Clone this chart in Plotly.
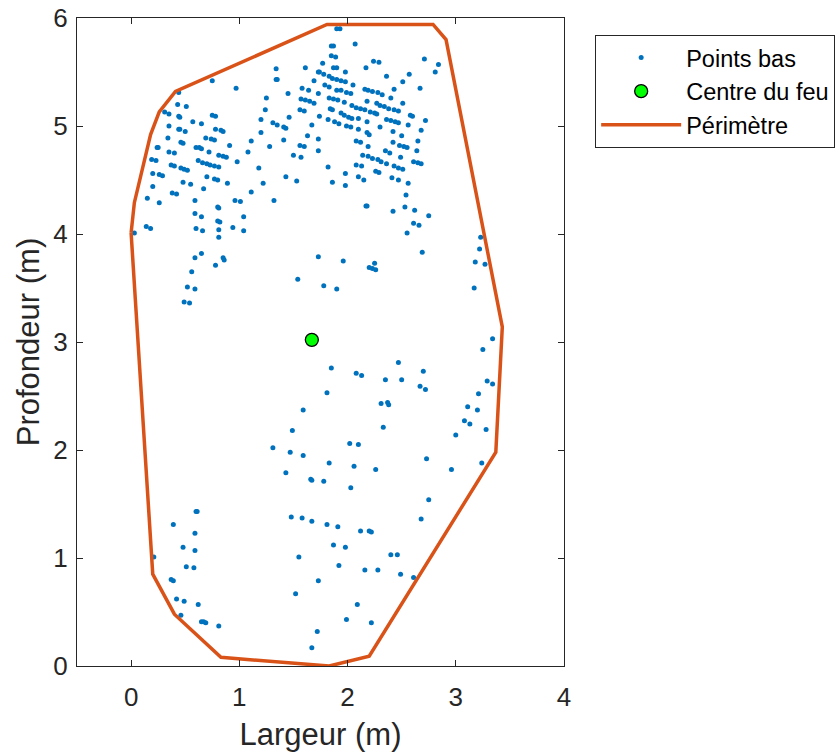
import plotly.graph_objects as go

# ---- Points bas, grouped by region ----
ul_x = [0.75,0.97,1.34,1.34,1.35,1.61,1.73,0.44,0.43,0.51,
        0.31,0.35,0.44,0.45,0.35,0.57,0.65,0.75,0.78,0.44,
        0.45,0.50,0.78,0.83,0.85,0.34,0.24,0.25,0.46,0.48,
        0.69,0.74,0.77,0.91,0.35,0.40,0.60,0.63,0.65,0.72,
        0.81,0.85,0.88,0.19,0.23,0.62,0.66,0.70,0.73,0.77,
        0.81,0.98,0.37,0.40,0.46,0.49,0.52,0.20,0.26,0.29,
        0.70,0.77,0.80,0.48,0.55,0.89,0.20,0.67,0.38,0.42,
        0.15,0.26,0.59,0.96,1.01,0.80,0.81,0.59,0.65,1.04,
        0.80,0.82,0.14,0.18,0.03,0.60,0.66,0.81,0.94,1.04,
        0.81,0.65,0.59,0.85,0.86,1.73,1.11,1.08,1.18,1.11,
        1.22,1.25,1.24,1.20,1.20,1.28,1.31,1.35,1.41,1.43,
        1.41,1.46,1.45,1.32,1.43,1.53,1.50,1.57,1.56,1.60,
        1.58,1.64,1.57,1.61,1.65,1.69,1.56,1.60,1.69,1.73,
        1.67,1.63,1.73,1.73,1.74]
ul_y = [5.42,5.35,5.53,5.43,5.43,5.54,5.50,5.31,5.20,5.18,
        5.13,5.11,5.09,5.08,5.00,5.04,5.02,5.10,5.09,4.97,
        4.97,4.95,4.97,4.96,4.95,4.89,4.80,4.80,4.85,4.84,
        4.89,4.88,4.87,4.82,4.76,4.75,4.80,4.80,4.79,4.76,
        4.73,4.72,4.71,4.69,4.68,4.68,4.66,4.65,4.64,4.63,
        4.62,4.67,4.64,4.63,4.61,4.60,4.59,4.56,4.55,4.54,
        4.53,4.51,4.50,4.48,4.46,4.47,4.44,4.42,4.38,4.37,
        4.33,4.29,4.31,4.31,4.30,4.25,4.24,4.19,4.16,4.16,
        4.12,4.11,4.07,4.05,4.01,4.05,4.03,4.04,4.06,4.03,
        3.97,3.82,3.78,3.78,3.76,3.79,4.86,4.76,4.61,4.39,
        4.47,5.26,5.15,5.06,4.94,4.81,5.03,5.01,4.99,4.98,
        4.87,5.08,5.30,4.31,4.53,4.49,4.73,4.71,4.82,4.81,
        5.35,5.33,5.25,5.24,5.23,5.21,5.15,5.14,5.42,5.30,
        5.01,4.91,4.88,4.77,5.09]

ur_x = [1.90,1.93,1.85,1.87,2.07,1.85,1.89,1.77,1.87,1.90,
        2.24,2.29,2.17,1.98,1.74,1.78,1.83,1.86,1.90,1.94,
        1.98,2.05,2.36,2.57,2.51,2.71,2.84,2.81,1.79,1.83,
        1.90,1.94,1.99,2.03,2.16,2.19,2.23,2.28,2.32,2.43,
        2.67,1.83,1.87,1.91,1.97,2.04,2.08,2.12,2.16,2.18,
        2.40,2.51,2.27,2.30,2.34,2.38,1.84,1.86,1.94,1.97,
        2.01,2.04,2.10,2.21,2.25,2.27,2.43,2.47,2.58,2.60,
        2.72,1.82,1.88,1.92,1.99,2.03,2.18,2.36,2.40,2.44,
        2.47,2.30,2.56,2.10,2.18,2.20,2.42,2.50,2.68,2.08,
        2.12,2.19,2.42,2.48,2.52,2.55,2.65,2.35,2.39,2.14,
        2.19,2.23,2.28,2.31,2.36,2.49,2.64,2.61,2.65,2.68,
        2.08,2.13,2.43,2.47,2.51,2.26,2.29,1.82,1.98,1.86,
        1.98,2.10,2.15,2.41,2.47,2.56,2.54,2.17,2.18,2.53,
        2.62,
        3.23,3.22,2.61,2.66,2.75,2.55,2.69,2.42]
ur_y = [5.90,5.90,5.74,5.74,5.76,5.65,5.64,5.58,5.54,5.54,
        5.60,5.59,5.54,5.50,5.50,5.48,5.46,5.44,5.43,5.42,
        5.41,5.38,5.46,5.48,5.41,5.62,5.57,5.50,5.38,5.36,
        5.33,5.33,5.31,5.30,5.34,5.33,5.32,5.31,5.29,5.34,
        5.35,5.26,5.25,5.24,5.22,5.19,5.17,5.16,5.15,5.23,
        5.26,5.21,5.21,5.19,5.18,5.16,5.16,5.15,5.12,5.10,
        5.08,5.07,5.07,5.13,5.12,5.11,5.15,5.14,5.10,5.09,
        5.05,5.06,5.04,5.02,5.00,4.99,5.04,5.06,5.05,5.04,
        5.03,4.99,5.01,4.97,4.94,4.92,4.95,4.91,4.96,4.86,
        4.85,4.81,4.85,4.82,4.81,4.80,4.86,4.77,4.75,4.73,
        4.72,4.70,4.69,4.67,4.65,4.71,4.77,4.67,4.66,4.65,
        4.64,4.63,4.63,4.61,4.60,4.58,4.57,4.62,4.56,4.48,
        4.45,4.53,4.50,4.52,4.50,4.47,4.36,4.26,4.26,4.25,
        4.22,
        3.97,3.86,4.10,4.08,4.17,4.01,3.83,4.21]

mid_x = [1.96,2.25,2.20,2.23,2.26,1.54,1.78,1.90,3.18,3.27,
         3.17,3.34,3.25,1.85,2.47,2.08,2.13,2.35,2.50,2.70,
         2.67,2.72,1.81,3.29,3.34,3.21,2.31,2.37,2.38,1.59,
         3.11,3.20,3.08,3.13,3.28,2.33,1.49,3.00,1.31,1.47,
         1.59,2.02,2.10,2.73,1.83,2.06,2.26,2.96,3.24,
         0.78,0.56,0.52,0.59,0.49,0.54]
mid_y = [3.75,3.73,3.69,3.68,3.67,3.58,3.52,3.49,3.74,3.72,
         3.50,3.03,2.93,2.76,2.81,2.71,2.69,2.65,2.65,2.73,
         2.59,2.56,2.53,2.64,2.61,2.52,2.43,2.44,2.42,2.37,
         2.40,2.37,2.27,2.24,2.19,2.21,2.18,2.14,2.02,1.98,
         1.95,2.06,2.05,1.92,1.88,1.85,1.82,1.82,1.88,
         3.71,3.65,3.51,3.49,3.37,3.36]

low_x = [1.43,1.66,1.67,0.60,0.61,0.39,1.48,1.58,1.67,0.59,
         0.48,0.59,0.21,1.55,0.51,0.58,0.37,0.39,1.73,1.52,
         0.42,0.49,0.62,0.46,0.65,0.67,0.69,0.81,1.72,1.67,
         1.78,2.03,2.75,2.68,1.81,1.91,2.12,2.20,2.22,1.87,
         1.98,1.92,2.40,2.46,2.16,2.28,2.49,2.61,2.09,1.99,2.22]
low_y = [1.79,1.73,1.72,1.43,1.43,1.31,1.38,1.37,1.34,1.23,
         1.10,1.07,1.01,1.01,0.92,0.91,0.80,0.79,0.79,0.67,
         0.62,0.60,0.57,0.47,0.41,0.41,0.40,0.37,0.32,0.17,
         1.71,1.65,1.54,1.36,1.31,1.29,1.25,1.25,1.24,1.12,
         1.10,0.93,1.03,1.03,0.89,0.89,0.85,0.82,0.57,0.43,0.40]

# ---- Centre du feu ----
centre_x = [1.67]
centre_y = [3.02]

# ---- Périmètre ----
perim_x = [0.00, 0.03, 0.18, 0.26, 0.41, 1.81, 2.79, 2.91, 3.43, 3.37, 2.20, 1.83, 0.83, 0.40, 0.20, 0.00]
perim_y = [4.01, 4.29, 4.92, 5.13, 5.32, 5.94, 5.94, 5.80, 3.14, 1.98, 0.09, 0.00, 0.08, 0.48, 0.85, 4.01]

x_ticks = [0, 1, 2, 3, 4]
y_ticks = [0, 1, 2, 3, 4, 5, 6]

pts_x = ul_x + ur_x + mid_x + low_x
pts_y = ul_y + ur_y + mid_y + low_y

FONT = "Liberation Sans, Arial, sans-serif"
AX = "#262626"

fig = go.Figure()
fig.add_trace(go.Scatter(
    x=pts_x, y=pts_y, mode="markers", name="Points bas",
    marker=dict(color="#0072BD", size=5, line=dict(width=0))))
fig.add_trace(go.Scatter(
    x=centre_x, y=centre_y, mode="markers", name="Centre du feu",
    marker=dict(color="#00FF00", size=13, line=dict(color="black", width=1.3))))
fig.add_trace(go.Scatter(
    x=perim_x, y=perim_y, mode="lines", name="Périmètre",
    line=dict(color="#D95319", width=3.5)))

axis_common = dict(
    showline=True, linecolor=AX, linewidth=1, mirror="allticks",
    ticks="inside", ticklen=6, tickwidth=1, tickcolor=AX,
    showgrid=False, zeroline=False,
    tickfont=dict(family=FONT, size=26, color=AX),
)
fig.update_xaxes(range=[-0.5, 4], tickvals=x_ticks, ticklabelstandoff=8,
                 title=dict(text="Largeur (m)", font=dict(family=FONT, size=31, color=AX), standoff=12),
                 **axis_common)
fig.update_yaxes(range=[0, 6], tickvals=y_ticks, ticklabelstandoff=3,
                 title=dict(text="Profondeur (m)", font=dict(family=FONT, size=31, color=AX), standoff=4),
                 **axis_common)

fig.update_layout(
    width=837, height=756,
    margin=dict(l=77, r=273, t=18, b=90, autoexpand=False),
    paper_bgcolor="white", plot_bgcolor="white",
    font=dict(family=FONT, color=AX),
    legend=dict(x=1.064, y=0.974, xanchor="left", yanchor="top",
                bgcolor="white", bordercolor=AX, borderwidth=1,
                font=dict(family=FONT, size=23.5, color="black"),
                itemwidth=80, tracegroupgap=0),
    showlegend=True,
)

fig.write_html("out.html", config={"displayModeBar": False},
               post_script="document.body.style.margin='0px';")
